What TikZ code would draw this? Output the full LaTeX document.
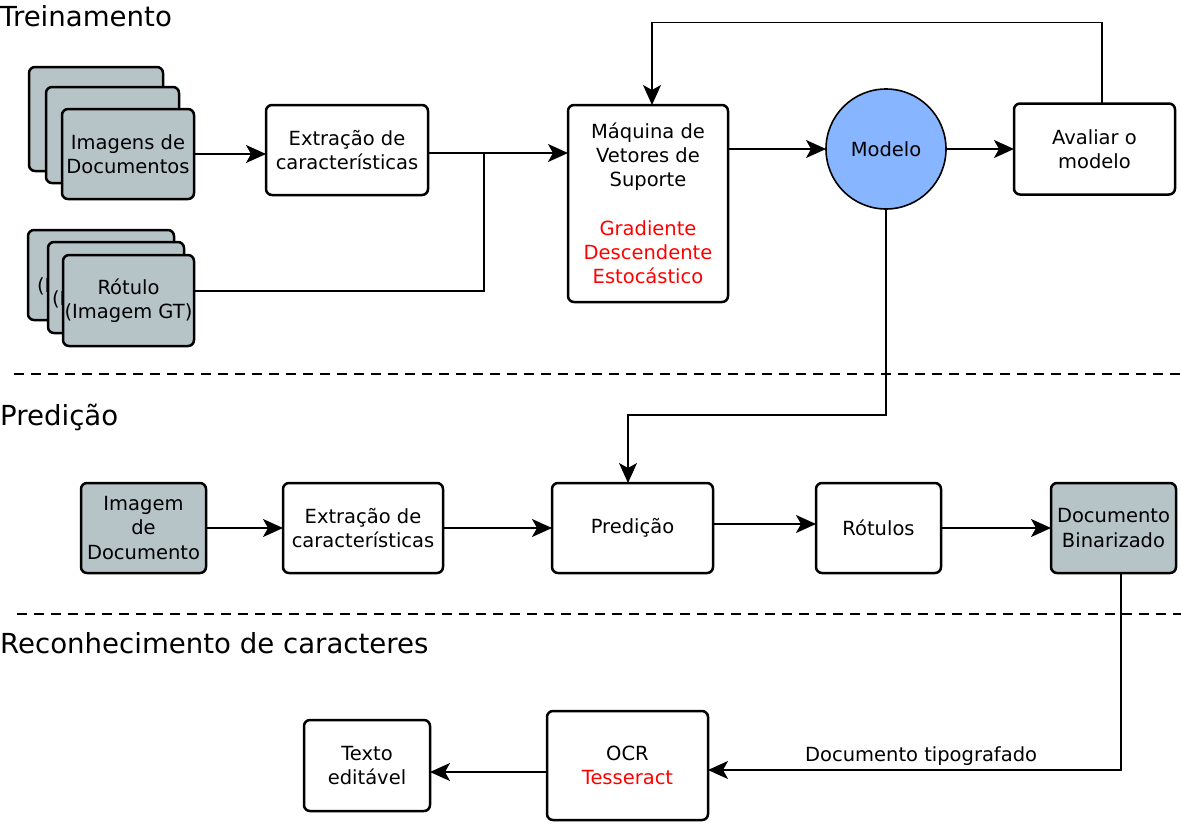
\documentclass[tikz,border=0pt]{standalone}
\usepackage{fontspec}
\setmainfont{DejaVu Sans}
\usetikzlibrary{positioning,arrows.meta}
\definecolor{cinza}{RGB}{183,196,199}
\definecolor{azul}{RGB}{135,181,255}
\newcommand{\verm}[1]{\textcolor{red}{#1}}

\begin{document}
\begin{tikzpicture}[x=1pt,y=-1pt,
    caixa/.style={draw,line width=2.5pt,rounded corners=6pt,fill=white,align=center,inner sep=0pt,outer sep=0pt,font=\fontsize{19.5}{24.2}\selectfont},
    pagina/.style={caixa,fill=cinza},
    seta/.style={line width=1.6pt,-{Stealth[length=20pt,width=18pt,inset=5pt]}},
    linha/.style={line width=1.6pt},
    titulo/.style={anchor=base west,inner sep=0pt,font=\fontsize{27.6}{33}\selectfont},
    divisoria/.style={line width=2pt,dash pattern=on 10pt off 7pt}]
    \useasboundingbox (0,0) rectangle (1181,825);
    \node[titulo] (treino) at (0,26) {Treinamento};
    \node[titulo] (predicao) at (0,425) {Predição};
    \node[titulo] (reconhec) at (0,653) {Reconhecimento de caracteres};
    \draw[divisoria] (14,374) -- (1181,374);
    \draw[divisoria] (17,614) -- (1181,614);

      \node[pagina,minimum width=134pt,minimum height=104pt] (img3) at (96,119) {};
      \node[pagina,minimum width=133pt,minimum height=96pt] (img2) at (112.5,135) {};
      \node[pagina,minimum width=132pt,minimum height=90pt] (img1) at (128,154) {Imagens de\\Documentos};
      \node[pagina,minimum width=146pt,minimum height=90pt] (rot3) at (101,275) {Rótulo\\(Imagem GT)};
      \node[pagina,minimum width=136pt,minimum height=91pt] (rot2) at (116,287.5) {Rótulo\\(Imagem GT)};
      \node[pagina,minimum width=131pt,minimum height=91pt] (rot1) at (128.5,300.5) {Rótulo\\(Imagem GT)};
      \node[caixa,minimum width=162pt,minimum height=90pt] (ext1) at (347,150) {Extração de\\características};
      \node[caixa,minimum width=160pt,minimum height=197pt] (svm) at (648,203.5)
        {Máquina de\\Vetores de\\Suporte\\[24.2pt]\verm{Gradiente}\\\verm{Descendente}\\\verm{Estocástico}};
      \node[circle,draw,line width=1.6pt,fill=azul,minimum size=120pt,inner sep=0pt,outer sep=0pt,font=\fontsize{19.5}{24.2}\selectfont] (modelo) at (886,149) {Modelo};
      \node[caixa,minimum width=161pt,minimum height=91pt,right=68pt of modelo] (aval) {Avaliar o\\modelo};
      \coordinate (juncao) at (484,153);

      \node[pagina,minimum width=125pt,minimum height=90pt] (imgp) at (143.5,528) {Imagem\\de\\Documento};
      \node[caixa,minimum width=160pt,minimum height=90pt,right=77pt of imgp] (ext2) {Extração de\\características};
      \node[caixa,minimum width=161pt,minimum height=90pt,right=109pt of ext2] (pred) {Predição};
      \node[caixa,minimum width=125pt,minimum height=90pt,right=103pt of pred] (rotulos) {Rótulos};
      \node[pagina,minimum width=125pt,minimum height=90pt,right=110pt of rotulos] (bin) {Documento\\Binarizado};

      \node[caixa,minimum width=161pt,minimum height=109pt] (ocr) at (627.5,765.5) {OCR\\\verm{Tesseract}};
      \node[caixa,minimum width=126pt,minimum height=91pt,left=117pt of ocr] (texto) {Texto\\editável};

      \draw[seta] (img1.east) -- (img1.east -| ext1.west);
      \draw[seta] (ext1.east |- juncao) -- (juncao -| svm.west);
      \draw[linha] ([yshift=9.5pt]rot1.east) -| (juncao);
      \draw[seta] (svm.east |- modelo.west) -- (modelo.west);
      \draw[seta] (modelo.east) -- (aval.west);
      \draw[seta] ([xshift=7.5pt]aval.north) -- ++(0,-81) -| ([xshift=4pt]svm.north);
      \draw[seta] (modelo.south) -- ++(0,206) -| ([xshift=-4.5pt]pred.north);
      \draw[seta] (imgp.east) -- (ext2.west);
      \draw[seta] (ext2.east) -- (pred.west);
      \draw[seta] ([yshift=4pt]pred.east) -- ([yshift=4pt]rotulos.west);
      \draw[seta] (rotulos.east) -- (bin.west);
      \draw[seta] ([xshift=7.5pt]bin.south) |- node[pos=0.742,above,font=\fontsize{19.5}{24.2}\selectfont] (tipog) {Documento tipografado} ([yshift=-4.5pt]ocr.east);
      \draw[seta] ([yshift=-6.5pt]ocr.west) -- ([yshift=-6.5pt]ocr.west -| texto.east);
\end{tikzpicture}
\end{document}
